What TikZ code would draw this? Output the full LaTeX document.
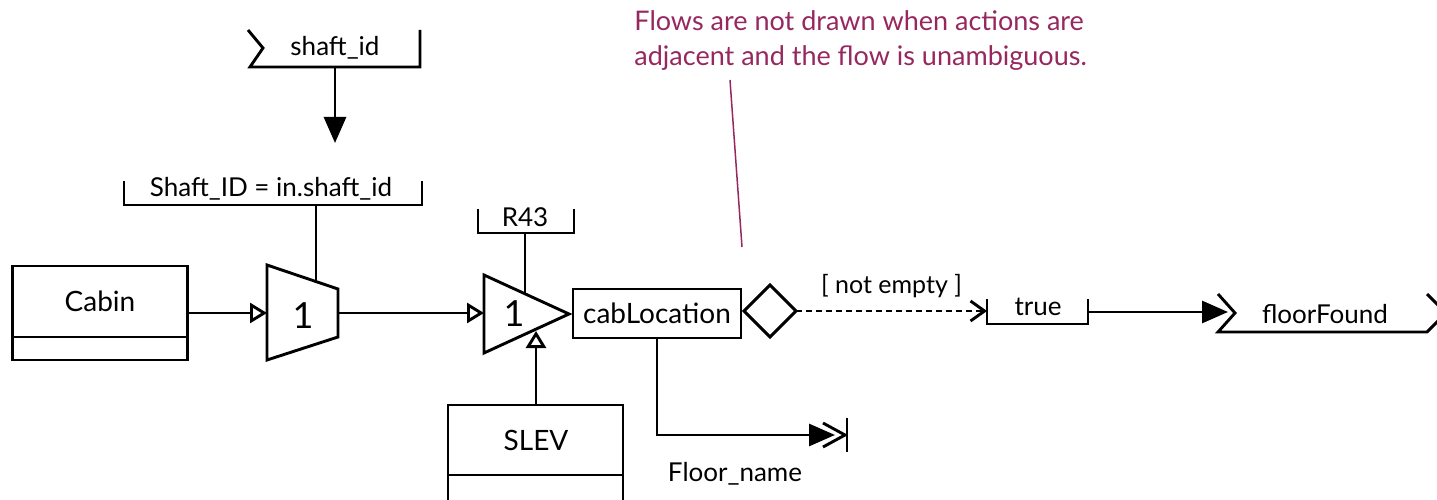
\documentclass[tikz,border=0pt]{standalone}
\usepackage{fontspec}
\setmainfont{Lato}
\usetikzlibrary{arrows.meta}
\definecolor{notecol}{RGB}{150,40,95}

\begin{document}
\begin{tikzpicture}[x=1pt, y=-1pt, line width=2.9pt, line join=miter,
  txt/.style={inner sep=0pt, font=\fontsize{26}{30}\selectfont},
  bigtxt/.style={inner sep=0pt, font=\fontsize{28}{32}\selectfont},
  numtxt/.style={inner sep=0pt, font=\fontsize{36}{40}\selectfont},
  notetxt/.style={inner sep=0pt, text=notecol, align=left,
    font=\fontsize{27}{35}\selectfont},
  flowarrow/.style={-{Triangle[length=26pt, width=22pt]}},
  objarrow/.style={-{Triangle[open, length=17pt, width=20pt]}},
  guardarrow/.style={dashed, dash pattern=on 6pt off 4pt,
    -{Straight Barb[length=14pt, width=20pt, line width=2.9pt]}},
  classbox/.style={draw, minimum width=175pt, inner sep=0pt}
]
\useasboundingbox (0,0) rectangle (1437,500);

% ---------- incoming signal shaft_id ----------
\draw (248,30) -- (263,48) -- (250,67) -- (420,67) -- (420,30);
\node[txt] (shaftid) at (335,48) {shaft\_id};
\coordinate (sigout) at (335,67);

% ---------- selection condition ----------
\draw (124,181) -- (124,205) -- (422,205) -- (422,181);
\node[txt] (cond) at (271,189) {Shaft\_ID = in.shaft\_id};
\coordinate (condout) at (316,205);
\draw[flowarrow] (sigout) -- (335,143);

% ---------- Cabin class ----------
\node[classbox, minimum height=94pt] (cabin) at (100,313) {};
\draw (13,337) -- (187,337);
\node[bigtxt] (cabinlbl) at (100,301) {Cabin};

% ---------- selection (trapezoid) ----------
\draw (267,265) -- (338,289) -- (338,337) -- (267,360) -- cycle;
\coordinate (selin) at (267,313);
\coordinate (selout) at (338,313);
\coordinate (seltop) at (316,281.6);
\node[numtxt] (selnum) at (303,316) {1};
\draw (condout) -- (seltop);
\draw[objarrow] (cabin.east |- selin) -- (selin);

% ---------- traversal (triangle) ----------
\draw (484,275) -- (569,314) -- (484,353) -- cycle;
\coordinate (navin) at (484,313);
\coordinate (navtop) at (525,293.8);
\coordinate (navbot) at (536,331);
\node[numtxt] (navnum) at (514,314) {1};
\draw[objarrow] (selout) -- (navin);

% ---------- relationship R43 ----------
\draw (478,209) -- (478,233) -- (574,233) -- (574,209);
\node[txt] (rel) at (525,217) {R43};
\coordinate (relout) at (525,233);
\draw (relout) -- (navtop);

% ---------- SLEV class ----------
\draw (448,502) -- (448,405) -- (623,405) -- (623,502);
\draw (448,475) -- (623,475);
\node[bigtxt] (slev) at (536,440) {SLEV};
\coordinate (slevtop) at (536,405);
\draw[objarrow] (slevtop) -- (navbot);

% ---------- cabLocation pin ----------
\node[draw, minimum width=168pt, minimum height=49pt, inner sep=0pt] (cabloc) at (657,313.5) {};
\node[bigtxt] (cablbl) at (657,313) {cabLocation};

% ---------- decision ----------
\draw (744,311) -- (770,285) -- (796,311) -- (770,337) -- cycle;
\coordinate (decout) at (796,311);

% ---------- true value ----------
\draw (987,299) -- (987,324) -- (1088,324) -- (1088,299);
\node[txt] (truelbl) at (1038,307) {true};
\coordinate (truein) at (987,311);
\coordinate (trueout) at (1088,312);

\draw[guardarrow] (decout) -- (truein)
  node[midway, above=12pt, txt, font=\fontsize{25}{29}\selectfont] (guard) {[ not empty ]};

% ---------- outgoing signal floorFound ----------
\draw (1218,294) -- (1235,313) -- (1218,332) -- (1427,332) -- (1446,313);
\draw (1427,294) -- (1446,313);
\node[txt] (floorfound) at (1325,314) {floorFound};
\coordinate (sigin) at (1228,312);
\draw[flowarrow] (trueout) -- (sigin);

% ---------- Floor_name output ----------
\coordinate (flend) at (835,435);
\draw[flowarrow] (cabloc.south) -- (cabloc.south |- flend) -- (flend);
\draw (823,423) -- (845,435) -- (823,447);
\draw (847,418) -- (847,452);
\node[txt] (floorname) at (735,474) {Floor\_name};

% ---------- note ----------
\node[notetxt, anchor=north west] (note) at (633,9)
  {Flows are not drawn when actions are\\adjacent and the flow is unambiguous.};
\coordinate (notetip) at (742,247);
\draw[notecol, line width=1.5pt] (730,80) -- (notetip);
\end{tikzpicture}
\end{document}
